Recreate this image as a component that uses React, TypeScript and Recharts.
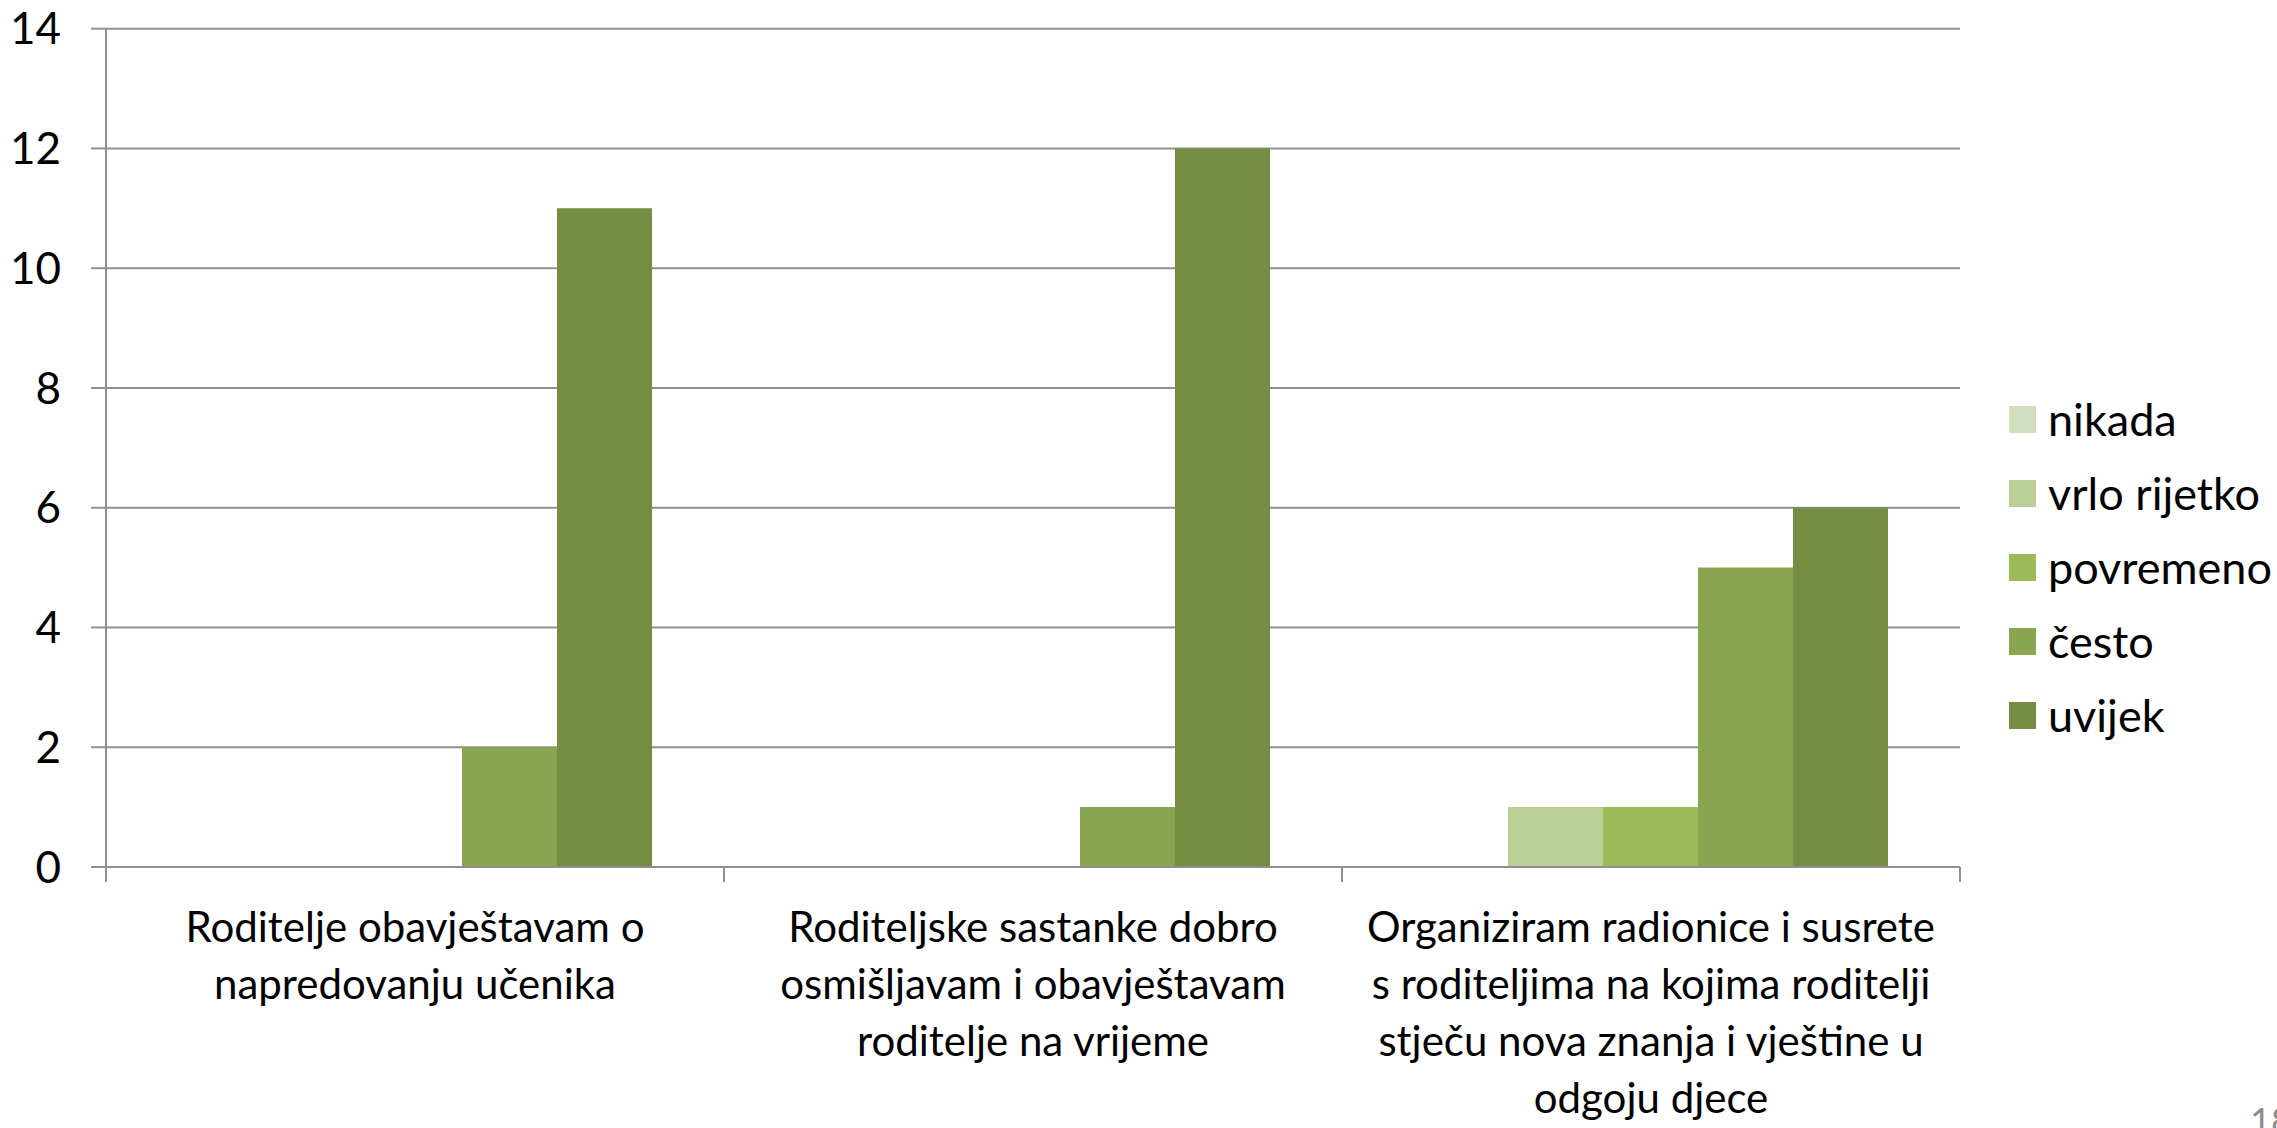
import React from "react";
import { BarChart, Bar, XAxis, YAxis, CartesianGrid, Legend } from "recharts";

const categories = [
  "Roditelje obavještavam o\nnapredovanju učenika",
  "Roditeljske sastanke dobro\nosmišljavam i obavještavam\nroditelje na vrijeme",
  "Organiziram radionice i susrete\ns roditeljima na kojima roditelji\nstječu nova znanja i vještine u\nodgoju djece",
];
const seriesNames = ["nikada", "vrlo rijetko", "povremeno", "često", "uvijek"];
const nikada = [0, 0, 0];
const vrloRijetko = [0, 0, 1];
const povremeno = [0, 0, 1];
const cesto = [2, 1, 5];
const uvijek = [11, 12, 6];
const yTicks = [0, 2, 4, 6, 8, 10, 12, 14];
const colors = ["#D2DFBE", "#BACE96", "#9BBB59", "#8AA54F", "#758D43"];

const seriesValues = [nikada, vrloRijetko, povremeno, cesto, uvijek];
const data = categories.map((c, i) => {
  const row: Record<string, string | number> = { category: c };
  seriesNames.forEach((s, k) => {
    row[s] = seriesValues[k][i];
  });
  return row;
});

const W = 2277;
const H = 1128;
const PLOT_LEFT = 106;
const PLOT_RIGHT = 1960;
const PLOT_TOP = 28.7;
const PLOT_BOTTOM = 867;
const BAND = (PLOT_RIGHT - PLOT_LEFT) / categories.length;
const FONT = "Lato, 'Open Sans', sans-serif";
const GRID = "#8f8f8f";

const CategoryTick = (props: any) => {
  const { x, y, payload, index } = props;
  const lines = String(payload.value).split("\n");
  const isLast = index === categories.length - 1;
  return (
    <g>
      <line x1={x - BAND / 2} x2={x - BAND / 2} y1={PLOT_BOTTOM} y2={PLOT_BOTTOM + 15} stroke={GRID} strokeWidth={2} />
      {isLast && (
        <line x1={x + BAND / 2} x2={x + BAND / 2} y1={PLOT_BOTTOM} y2={PLOT_BOTTOM + 15} stroke={GRID} strokeWidth={2} />
      )}
      <text x={x} y={y} textAnchor="middle" fontFamily={FONT} fontSize={42} fill="#000">
        {lines.map((l, i) => (
          <tspan key={i} x={x} y={PLOT_BOTTOM + 75 + i * 57}>
            {l}
          </tspan>
        ))}
      </text>
    </g>
  );
};

const LegendContent = () => (
  <div style={{ fontFamily: FONT, fontSize: 45, color: "#000" }}>
    {seriesNames.map((s, i) => (
      <div key={s} style={{ display: "flex", alignItems: "center", height: 74.2 }}>
        <div style={{ width: 27, height: 27, background: colors[i], marginRight: 12 }} />
        <span style={{ lineHeight: "45px" }}>{s}</span>
      </div>
    ))}
  </div>
);

export default function App() {
  return (
    <div style={{ position: "absolute", left: 0, top: 0, width: W, height: H, overflow: "hidden", background: "#fff" }}>
      <BarChart
        width={W}
        height={H}
        data={data}
        margin={{ top: PLOT_TOP, right: W - PLOT_RIGHT, left: 0, bottom: 0 }}
        barCategoryGap={71}
        barGap={0}
      >
        <CartesianGrid vertical={false} stroke={GRID} strokeWidth={2} />
        <XAxis
          dataKey="category"
          interval={0}
          height={H - PLOT_BOTTOM}
          axisLine={{ stroke: GRID, strokeWidth: 2 }}
          tickLine={false}
          tick={<CategoryTick />}
        />
        <YAxis
          width={PLOT_LEFT}
          domain={[0, 14]}
          ticks={yTicks}
          interval={0}
          tickSize={15}
          tickMargin={30}
          axisLine={{ stroke: GRID, strokeWidth: 2 }}
          tickLine={{ stroke: GRID, strokeWidth: 2 }}
          tick={{ fontFamily: FONT, fontSize: 44, fill: "#000" }}
        />
        <Legend
          layout="horizontal"
          align="center"
          verticalAlign="middle"
          content={<LegendContent />}
          wrapperStyle={{ left: 2009, top: 382, width: 268, height: 380 }}
        />
        {seriesNames.map((s, i) => (
          <Bar key={s} dataKey={s} fill={colors[i]} isAnimationActive={false} />
        ))}
      </BarChart>
      <div
        style={{
          position: "absolute",
          left: 2250,
          top: 1098,
          fontFamily: FONT,
          fontSize: 36,
          color: "#8c8c8c",
          whiteSpace: "nowrap",
        }}
      >
        18
      </div>
    </div>
  );
}
